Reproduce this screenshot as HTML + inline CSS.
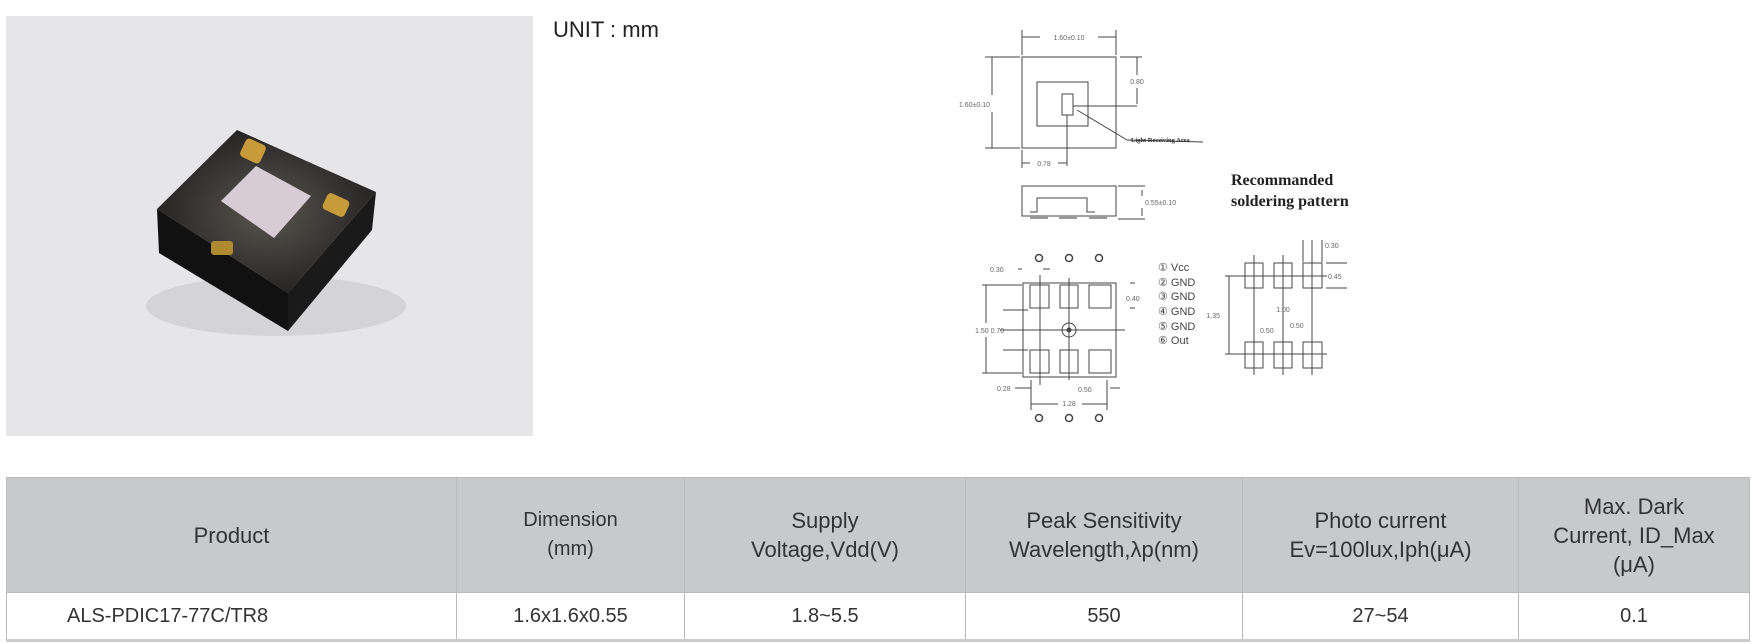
<!DOCTYPE html>
<html><head><meta charset="utf-8"><style>
body{margin:0;width:1753px;height:644px;background:#fff;position:relative;overflow:hidden;font-family:"Liberation Sans",sans-serif;}
.photo{position:absolute;left:6px;top:16px;width:527px;height:420px;background:#e6e6e8;}
.unit{position:absolute;left:553px;top:17px;font-size:22px;color:#222;}
table{position:absolute;left:6px;top:477px;border-collapse:collapse;font-family:"Liberation Sans",sans-serif;color:#333;}
td{border:1px solid #bbb;text-align:center;padding:0;}
tr.h td{background:#c8c9cb;height:114px;font-size:22px;line-height:29px;}
tr.r td{height:46px;font-size:20px;border-bottom:3px solid #ccc;}
.sans{font-family:"Liberation Sans",sans-serif;}
.serif{font-family:"Liberation Serif",serif;}
</style></head><body>
<div class="photo">
<svg width="527" height="420">
<defs><radialGradient id="g" cx="50%" cy="50%" r="60%"><stop offset="0" stop-color="#5a5550"/><stop offset="1" stop-color="#1c1c1c"/></radialGradient></defs>
<ellipse cx="270" cy="290" rx="130" ry="30" fill="#d4d4d6"/>
<polygon points="151,193 231,114 370,176 282,277" fill="url(#g)"/>
<polygon points="151,193 282,277 282,315 153,237" fill="#111"/>
<polygon points="282,277 370,176 366,214 282,315" fill="#1a1a1a"/>
<polygon points="215,185 250,150 305,180 268,222" fill="#d8ccd4"/>
<rect x="236" y="125" width="22" height="20" rx="4" fill="#c79a3a" transform="rotate(25 247 135)"/>
<rect x="318" y="180" width="24" height="18" rx="4" fill="#c79a3a" transform="rotate(25 330 189)"/>
<rect x="205" y="225" width="22" height="14" rx="3" fill="#b08a30"/>
</svg></div>
<div class="unit">UNIT : mm</div>
<svg style="position:absolute;left:0;top:0" width="1753" height="470" stroke="#444" fill="none" stroke-width="1">
<rect x="1022" y="57" width="94" height="91"/>
<rect x="1037" y="82" width="51" height="44"/>
<rect x="1062" y="94" width="11" height="21"/>
<line x1="1022" y1="30" x2="1022" y2="55"/><line x1="1116" y1="30" x2="1116" y2="55"/>
<line x1="1022" y1="37" x2="1040" y2="37"/><line x1="1098" y1="37" x2="1116" y2="37"/>
<line x1="985" y1="57" x2="1020" y2="57"/><line x1="985" y1="148" x2="1020" y2="148"/>
<line x1="992" y1="57" x2="992" y2="95"/><line x1="992" y1="112" x2="992" y2="148"/>
<line x1="1120" y1="57" x2="1142" y2="57"/><line x1="1137" y1="57" x2="1137" y2="75"/><line x1="1137" y1="88" x2="1137" y2="104"/>
<line x1="1073" y1="106" x2="1137" y2="106"/>
<line x1="1077" y1="110" x2="1127" y2="140"/><line x1="1127" y1="140" x2="1203" y2="142"/>
<line x1="1067" y1="115" x2="1067" y2="166"/>
<line x1="1022" y1="150" x2="1022" y2="168"/><line x1="1022" y1="163" x2="1030" y2="163"/><line x1="1058" y1="163" x2="1067" y2="163"/>
<rect x="1022" y="186" width="94" height="30"/>
<polyline points="1030,212 1037,212 1037,198 1087,198 1087,212 1095,212"/>
<line x1="1118" y1="186" x2="1145" y2="186"/><line x1="1118" y1="219" x2="1145" y2="219"/>
<line x1="1142" y1="190" x2="1142" y2="196"/><line x1="1142" y1="208" x2="1142" y2="216"/>
<g fill="#999" stroke="none"><rect x="1030" y="216" width="18" height="3"/><rect x="1059" y="216" width="18" height="3"/><rect x="1089" y="216" width="18" height="3"/></g>
<rect x="1023" y="283" width="93" height="94"/>
<rect x="1030" y="285" width="19" height="23"/><rect x="1060" y="285" width="18" height="23"/><rect x="1089" y="285" width="22" height="23"/>
<rect x="1030" y="350" width="19" height="23"/><rect x="1060" y="350" width="18" height="23"/><rect x="1089" y="350" width="22" height="23"/>
<circle cx="1069" cy="330" r="7"/><circle cx="1069" cy="330" r="2" fill="#444"/>
<line x1="1000" y1="330" x2="1125" y2="330"/>
<line x1="1040" y1="275" x2="1040" y2="385"/><line x1="1069" y1="278" x2="1069" y2="380"/>
<line x1="982" y1="285" x2="1022" y2="285"/><line x1="982" y1="373" x2="1022" y2="373"/>
<line x1="986" y1="285" x2="986" y2="323"/><line x1="986" y1="337" x2="986" y2="373"/>
<line x1="1003" y1="310" x2="1028" y2="310"/><line x1="1003" y1="350" x2="1028" y2="350"/>
<line x1="1130" y1="283" x2="1135" y2="283"/><line x1="1130" y1="308" x2="1135" y2="308"/>
<line x1="1031" y1="380" x2="1031" y2="410"/><line x1="1107" y1="380" x2="1107" y2="410"/>
<line x1="1031" y1="404" x2="1058" y2="404"/><line x1="1082" y1="404" x2="1107" y2="404"/>
<line x1="1015" y1="388" x2="1031" y2="388"/><line x1="1110" y1="388" x2="1120" y2="388"/>
<line x1="1018" y1="269" x2="1022" y2="269"/><line x1="1043" y1="269" x2="1050" y2="269"/>
<g stroke-width="1.5"><circle cx="1039" cy="258" r="3.5"/><circle cx="1069" cy="258" r="3.5"/><circle cx="1099" cy="258" r="3.5"/>
<circle cx="1039" cy="418" r="3.5"/><circle cx="1069" cy="418" r="3.5"/><circle cx="1099" cy="418" r="3.5"/></g>
<g><rect x="1245" y="263" width="18" height="25"/><rect x="1274" y="263" width="18" height="25"/><rect x="1303" y="263" width="19" height="25"/>
<rect x="1245" y="342" width="18" height="26"/><rect x="1274" y="342" width="18" height="26"/><rect x="1303" y="342" width="19" height="26"/>
<line x1="1225" y1="276" x2="1327" y2="276"/><line x1="1225" y1="354" x2="1327" y2="354"/>
<line x1="1254" y1="255" x2="1254" y2="375"/><line x1="1283" y1="255" x2="1283" y2="375"/><line x1="1312" y1="240" x2="1312" y2="375"/>
<line x1="1303" y1="240" x2="1303" y2="262"/><line x1="1322" y1="240" x2="1322" y2="262"/>
<line x1="1326" y1="263" x2="1347" y2="263"/><line x1="1326" y1="288" x2="1347" y2="288"/>
<line x1="1229" y1="276" x2="1229" y2="354"/>
</g>
</svg>
<svg style="position:absolute;left:0;top:0" width="1753" height="470" fill="#666" font-size="7" class="sans">
<text x="1069" y="40" text-anchor="middle">1.60±0.10</text>
<text x="990" y="107" text-anchor="end">1.60±0.10</text>
<text x="1137" y="84" text-anchor="middle">0.80</text>
<text x="1131" y="142" class="serif" font-weight="bold" fill="#222" font-size="6.5">Light Receiving Area</text>
<text x="1044" y="166" text-anchor="middle">0.78</text>
<text x="1145" y="205">0.55±0.10</text>
<text x="990" y="272">0.30</text>
<text x="1126" y="301">0.40</text>
<text x="975" y="333">1.50 0.70</text>
<text x="997" y="391">0.28</text>
<text x="1078" y="392">0.50</text>
<text x="1069" y="406" text-anchor="middle">1.28</text>
<text x="1325" y="248">0.30</text>
<text x="1328" y="279">0.45</text>
<text x="1220" y="318" text-anchor="end">1.35</text>
<text x="1283" y="312" text-anchor="middle">1.00</text>
<text x="1260" y="333">0.50</text>
<text x="1290" y="328">0.50</text>
<g font-size="11" fill="#444"><text x="1158" y="271">① Vcc</text><text x="1158" y="286">② GND</text><text x="1158" y="300">③ GND</text><text x="1158" y="315">④ GND</text><text x="1158" y="330">⑤ GND</text><text x="1158" y="344">⑥ Out</text></g>
<g class="serif" font-size="16" font-weight="bold" fill="#222"><text x="1231" y="185">Recommanded</text><text x="1231" y="206">soldering pattern</text></g>
</svg>
<table>
<tr class="h"><td style="width:449px">Product</td><td style="width:227px;font-size:20px">Dimension<br>(mm)</td><td style="width:280px">Supply<br>Voltage,Vdd(V)</td><td style="width:276px">Peak Sensitivity<br>Wavelength,λp(nm)</td><td style="width:275px">Photo current<br>Ev=100lux,Iph(μA)</td><td style="width:230px">Max. Dark<br>Current, ID_Max<br>(μA)</td></tr>
<tr class="r"><td style="text-align:left;padding-left:60px;width:389px">ALS-PDIC17-77C/TR8</td><td>1.6x1.6x0.55</td><td>1.8~5.5</td><td>550</td><td>27~54</td><td>0.1</td></tr>
</table>
</body></html>
